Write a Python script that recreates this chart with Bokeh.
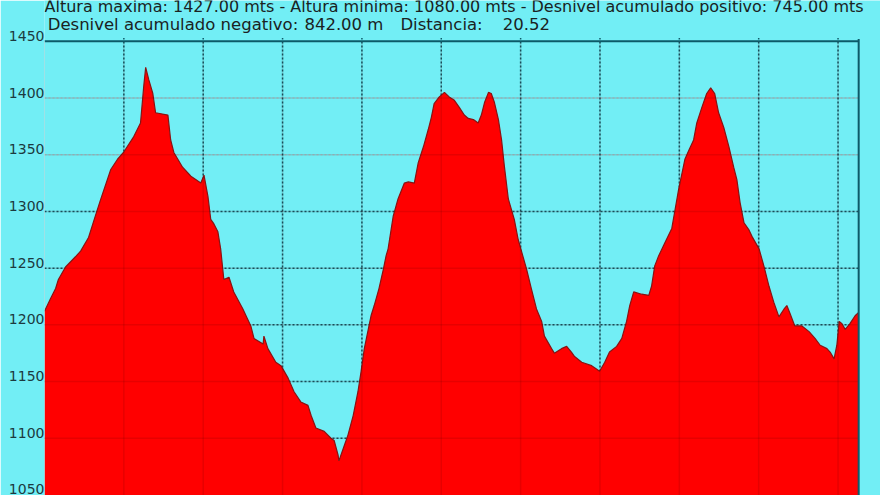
from bokeh.plotting import figure
from bokeh.models import FixedTicker, Label, LinearAxis, Range1d
from bokeh.embed import file_html
from bokeh.resources import INLINE

# ---- data ----
distance_km = [0.00, 0.15, 0.28, 0.35, 0.53, 0.78, 0.91, 1.11, 1.29, 1.41,
               1.67, 1.84, 1.99, 2.25, 2.42, 2.50, 2.55, 2.63, 2.73, 2.80,
               3.11, 3.18, 3.26, 3.48, 3.69, 3.94, 4.02, 4.12, 4.19, 4.27,
               4.37, 4.44, 4.52, 4.65, 4.77, 5.00, 5.20, 5.28, 5.51, 5.53,
               5.63, 5.83, 5.96, 6.14, 6.29, 6.46, 6.64, 6.72, 6.84, 7.05,
               7.22, 7.30, 7.40, 7.42, 7.53, 7.65, 7.78, 7.90, 7.98, 8.06,
               8.16, 8.23, 8.31, 8.43, 8.54, 8.61, 8.66, 8.79, 8.91, 9.07,
               9.17, 9.32, 9.42, 9.55, 9.67, 9.75, 9.82, 9.95, 10.08, 10.20,
               10.33, 10.45, 10.58, 10.68, 10.81, 10.93, 11.01, 11.09, 11.19, 11.26,
               11.34, 11.44, 11.52, 11.59, 11.69, 11.84, 11.94, 12.15, 12.27, 12.40,
               12.53, 12.60, 12.78, 12.85, 13.03, 13.16, 13.28, 13.36, 13.54, 13.79,
               13.91, 13.99, 14.12, 14.24, 14.42, 14.55, 14.67, 14.75, 14.85, 15.05,
               15.23, 15.30, 15.38, 15.48, 15.63, 15.81, 15.98, 16.14, 16.24, 16.36,
               16.44, 16.57, 16.69, 16.79, 16.89, 16.99, 17.12, 17.25, 17.37, 17.45,
               17.53, 17.63, 17.75, 17.83, 18.01, 18.13, 18.26, 18.38, 18.51, 18.64,
               18.71, 18.79, 18.91, 19.09, 19.27, 19.42, 19.55, 19.72, 19.80, 19.90,
               19.97, 20.03, 20.10, 20.18, 20.30, 20.43, 20.52]
elevation_m = [1212, 1223, 1232, 1240, 1251, 1260, 1265, 1277, 1297, 1310,
               1337, 1346, 1352, 1366, 1378, 1410, 1427, 1416, 1404, 1387,
               1385, 1363, 1352, 1339, 1331, 1325, 1332, 1313, 1293, 1289,
               1282, 1267, 1240, 1242, 1229, 1214, 1199, 1188, 1183, 1190,
               1179, 1167, 1164, 1153, 1141, 1132, 1129, 1120, 1109, 1106,
               1100, 1098, 1085, 1080, 1091, 1103, 1120, 1141, 1159, 1179,
               1196, 1208, 1217, 1232, 1249, 1261, 1267, 1296, 1311, 1325,
               1326, 1325, 1343, 1357, 1372, 1383, 1395, 1401, 1405, 1401,
               1398, 1392, 1385, 1382, 1381, 1378, 1385, 1396, 1405, 1404,
               1396, 1381, 1363, 1340, 1311, 1293, 1275, 1249, 1232, 1214,
               1203, 1190, 1179, 1175, 1179, 1181, 1176, 1172, 1167, 1164,
               1161, 1159, 1167, 1176, 1181, 1188, 1203, 1217, 1229, 1227,
               1226, 1234, 1252, 1261, 1272, 1285, 1319, 1346, 1354, 1363,
               1378, 1392, 1404, 1409, 1404, 1387, 1374, 1357, 1339, 1328,
               1308, 1290, 1284, 1278, 1267, 1252, 1234, 1220, 1207, 1214,
               1217, 1210, 1199, 1199, 1194, 1188, 1182, 1179, 1176, 1170,
               1182, 1203, 1201, 1196, 1201, 1208, 1211]

y_ticks = [1050, 1100, 1150, 1200, 1250, 1300, 1350, 1400, 1450]
y_grid_dark = [1100, 1150, 1200, 1250, 1300]
y_grid_light = [1350, 1400]
x_grid_km = [2, 4, 6, 8, 10, 12, 14, 16, 18, 20]

altura_maxima = "1427.00"
altura_minima = "1080.00"
desnivel_positivo = "745.00"
desnivel_negativo = "842.00"
distancia = "20.52"

line1 = (f"Altura maxima: {altura_maxima} mts - Altura minima: {altura_minima} mts"
         f" - Desnivel acumulado positivo: {desnivel_positivo} mts")
line2_parts = ["Desnivel acumulado negativo:", f"{desnivel_negativo} m",
               "Distancia:", distancia]

X_END = 20.52          # end of the profile = right border of the chart
X_VIEW = 21.07         # canvas continues a little past the right border
Y_MIN, Y_MAX, Y_TOP = 1049.5, 1450, 1486
LABEL_SHIFT = 4.8      # tick labels sit a little above their grid lines

BG = "#72EEF5"
TEAL = "#0d5a68"

p = figure(width=880, height=495, x_range=(0, X_VIEW), y_range=(Y_MIN, Y_TOP),
           output_backend="svg", toolbar_location=None, x_axis_location=None,
           y_axis_location=None,
           min_border_left=44, min_border_right=0, min_border_top=0, min_border_bottom=0,
           background_fill_color=BG, border_fill_color=BG, outline_line_color=None)
p.xgrid.visible = False
p.ygrid.visible = False


def hlines(vals, **kw):
    n = len(vals)
    p.segment(x0=[0] * n, y0=vals, x1=[X_END] * n, y1=vals, **kw)


def vlines(vals, top, **kw):
    n = len(vals)
    p.segment(x0=vals, y0=[Y_MIN] * n, x1=vals, y1=[top] * n, **kw)


# grid (below the profile)
hlines(y_grid_dark, line_color=TEAL, line_dash="2 2", line_width=1.5)
hlines(y_grid_light, line_color="#9fc9cf", line_dash="2 2", line_width=1.5)
vlines(x_grid_km, Y_MAX + 3, line_color=TEAL, line_dash="2 2", line_width=1.5)

# y axis (own range, shifted, so the labels sit just above the lines)
p.extra_y_ranges = {"labels": Range1d(Y_MIN - LABEL_SHIFT, Y_TOP - LABEL_SHIFT)}
ax = LinearAxis(y_range_name="labels", ticker=FixedTicker(ticks=y_ticks))
ax.axis_line_color = None
ax.major_tick_line_color = None
ax.minor_tick_line_color = None
ax.major_tick_out = 0
ax.major_tick_in = 0
ax.minor_tick_out = 0
ax.major_label_standoff = 0
ax.major_label_text_font = "DejaVu Sans"
ax.major_label_text_font_size = "14px"
ax.major_label_text_color = "#1c3a40"
p.add_layout(ax, "left")

# profile
p.varea(x=distance_km, y1=1000, y2=elevation_m, fill_color="#FF0000")
p.line(distance_km, elevation_m, line_color="#8a1212", line_width=1.2)

# faint grid visible through the red area
hlines(y_grid_dark + y_grid_light, line_color="#600000", line_alpha=0.15, line_width=1.5)
vlines(x_grid_km, Y_MAX, line_color="#600000", line_alpha=0.15, line_width=1.5)

# chart borders
hlines([Y_MAX], line_color=TEAL, line_width=2)
vlines([X_END], Y_MAX + 2, line_color=TEAL, line_width=2)
vlines([0], Y_MAX, line_color="#a9cfd4", line_width=1)

# header texts
p.add_layout(Label(x=0.0, y=1480.8, text=line1, x_units="data", y_units="data",
                   text_font="DejaVu Sans", text_font_size="16px", text_color="#1a2222",
                   text_baseline="alphabetic"))
line2_x = [0.08, 6.55, 8.97, 11.55]
for tx, tt in zip(line2_x, line2_parts):
    p.add_layout(Label(x=tx, y=1465, text=tt, x_units="data", y_units="data",
                       text_font="DejaVu Sans", text_font_size="16.5px",
                       text_color="#1a2222", text_baseline="alphabetic"))

open("out.html", "w").write(file_html(p, INLINE))
